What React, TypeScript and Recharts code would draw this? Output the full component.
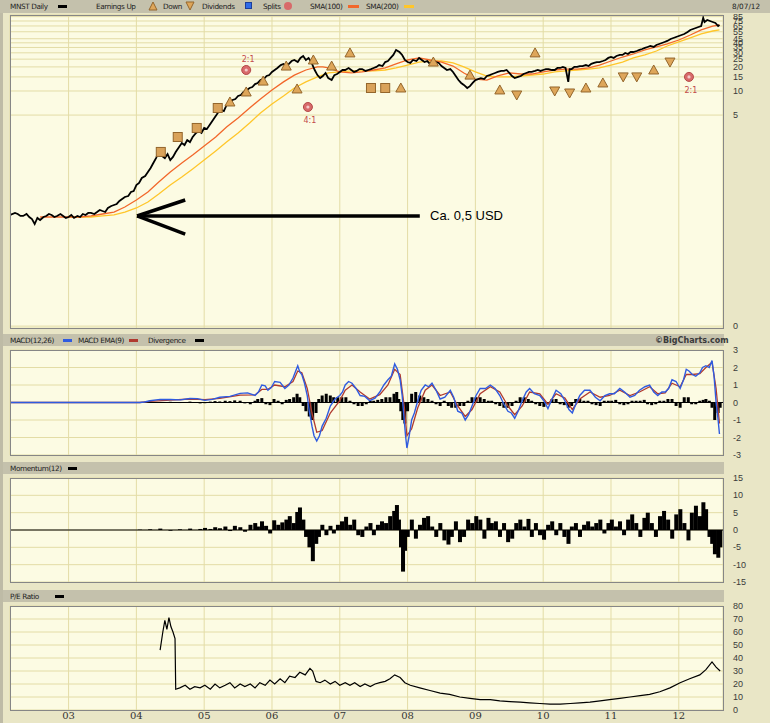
import React from "react";
import {
  ComposedChart,
  Line,
  Bar,
  Scatter,
  XAxis,
  YAxis,
  CartesianGrid,
  ReferenceLine,
} from "recharts";

type P = [number, number];

// ---------- axes ----------
const YEAR_TICKS = [2003, 2004, 2005, 2006, 2007, 2008, 2009, 2010, 2011, 2012];
const YEAR_LABELS = ["03", "04", "05", "06", "07", "08", "09", "10", "11", "12"];
const X_DOMAIN: [number, number] = [2002.136, 2012.652];

const PRICE_TICKS = [0.0115, 5, 10, 15, 20, 25, 30, 35, 40, 45, 55, 65, 75, 85];
const MACD_TICKS = [-3, -2, -1, 0, 1, 2, 3];
const MOM_TICKS = [-15, -10, -5, 0, 5, 10, 15];
const PE_TICKS = [0, 10, 20, 30, 40, 50, 60, 70, 80];

// ---------- price panel (decimal year, USD) ----------
const price: P[] = [
  [2002.14, 0.282], [2002.21, 0.299], [2002.25, 0.29], [2002.29, 0.274], [2002.33, 0.274], [2002.38, 0.29],
  [2002.42, 0.266], [2002.46, 0.251], [2002.5, 0.2175], [2002.54, 0.259], [2002.58, 0.244], [2002.63, 0.266],
  [2002.67, 0.274], [2002.71, 0.29], [2002.75, 0.282], [2002.79, 0.266], [2002.83, 0.274], [2002.88, 0.29],
  [2002.92, 0.274], [2002.96, 0.259], [2003.0, 0.266], [2003.04, 0.282], [2003.08, 0.259], [2003.13, 0.274],
  [2003.17, 0.266], [2003.21, 0.29], [2003.25, 0.282], [2003.29, 0.299], [2003.33, 0.299], [2003.38, 0.29],
  [2003.42, 0.307], [2003.46, 0.326], [2003.5, 0.316], [2003.54, 0.307], [2003.58, 0.345], [2003.63, 0.365],
  [2003.67, 0.376], [2003.71, 0.387], [2003.75, 0.422], [2003.79, 0.447], [2003.83, 0.473], [2003.88, 0.487],
  [2003.92, 0.546], [2003.96, 0.562], [2004.0, 0.668], [2004.04, 0.708], [2004.08, 0.818], [2004.13, 0.866],
  [2004.17, 0.972], [2004.21, 1.09], [2004.25, 1.26], [2004.29, 1.45], [2004.33, 1.73], [2004.38, 1.54],
  [2004.42, 1.45], [2004.46, 1.63], [2004.5, 1.37], [2004.54, 1.5], [2004.58, 1.73], [2004.63, 2.0],
  [2004.67, 2.24], [2004.71, 2.11], [2004.75, 2.44], [2004.79, 2.3], [2004.83, 2.66], [2004.88, 2.99],
  [2004.92, 3.16], [2004.96, 2.99], [2005.0, 3.45], [2005.04, 3.35], [2005.08, 3.76], [2005.13, 4.34],
  [2005.17, 4.87], [2005.21, 5.46], [2005.25, 5.79], [2005.29, 5.62], [2005.33, 6.68], [2005.38, 7.08],
  [2005.42, 7.72], [2005.46, 7.94], [2005.5, 8.66], [2005.54, 8.91], [2005.58, 9.72], [2005.63, 10.3],
  [2005.67, 10.9], [2005.71, 11.2], [2005.75, 12.2], [2005.79, 12.6], [2005.83, 13.7], [2005.88, 14.1],
  [2005.92, 15.4], [2005.96, 15.8], [2006.0, 17.3], [2006.04, 18.3], [2006.08, 19.4], [2006.13, 21.1],
  [2006.17, 21.8], [2006.21, 20.5], [2006.25, 21.8], [2006.29, 23.7], [2006.33, 24.4], [2006.38, 23.0],
  [2006.42, 25.9], [2006.46, 27.4], [2006.5, 24.4], [2006.54, 25.9], [2006.58, 23.0], [2006.63, 18.3],
  [2006.67, 15.8], [2006.71, 14.5], [2006.75, 15.4], [2006.79, 16.8], [2006.83, 14.5], [2006.88, 13.7],
  [2006.92, 15.8], [2006.96, 16.3], [2007.0, 17.3], [2007.04, 18.3], [2007.08, 18.3], [2007.13, 19.4],
  [2007.17, 18.3], [2007.21, 17.3], [2007.25, 17.8], [2007.29, 18.8], [2007.33, 18.8], [2007.38, 17.8],
  [2007.42, 18.3], [2007.46, 18.8], [2007.5, 19.4], [2007.54, 20.0], [2007.58, 21.1], [2007.63, 20.5],
  [2007.67, 23.0], [2007.71, 23.7], [2007.75, 25.9], [2007.79, 28.2], [2007.83, 32.6], [2007.88, 30.7],
  [2007.92, 28.2], [2007.96, 24.4], [2008.0, 23.0], [2008.04, 22.4], [2008.08, 24.4], [2008.13, 23.7],
  [2008.17, 25.9], [2008.21, 24.4], [2008.25, 23.0], [2008.29, 23.7], [2008.33, 21.8], [2008.38, 23.0],
  [2008.42, 23.0], [2008.46, 22.4], [2008.5, 20.5], [2008.54, 19.4], [2008.58, 18.3], [2008.63, 18.8],
  [2008.67, 17.3], [2008.71, 15.4], [2008.75, 13.7], [2008.79, 12.6], [2008.83, 11.9], [2008.88, 10.9],
  [2008.92, 11.5], [2008.96, 12.6], [2009.0, 13.7], [2009.04, 14.1], [2009.08, 14.5], [2009.13, 14.1],
  [2009.17, 15.4], [2009.21, 15.8], [2009.25, 16.3], [2009.29, 16.8], [2009.33, 17.3], [2009.38, 17.8],
  [2009.42, 17.8], [2009.46, 18.3], [2009.5, 16.8], [2009.54, 15.4], [2009.58, 14.5], [2009.63, 15.0],
  [2009.67, 15.4], [2009.71, 16.3], [2009.75, 16.8], [2009.79, 17.3], [2009.83, 17.3], [2009.88, 17.8],
  [2009.92, 18.3], [2009.96, 17.8], [2010.0, 18.3], [2010.04, 18.8], [2010.08, 18.8], [2010.13, 18.3],
  [2010.17, 18.3], [2010.21, 19.4], [2010.25, 19.4], [2010.29, 20.0], [2010.33, 19.4], [2010.37, 13.0],
  [2010.39, 18.8], [2010.42, 18.8], [2010.46, 20.0], [2010.5, 20.0], [2010.54, 20.5], [2010.58, 20.5],
  [2010.63, 21.1], [2010.67, 20.5], [2010.71, 21.8], [2010.75, 22.4], [2010.79, 23.0], [2010.83, 23.0],
  [2010.88, 23.7], [2010.92, 24.4], [2010.96, 25.9], [2011.0, 26.6], [2011.04, 25.9], [2011.08, 27.4],
  [2011.13, 28.2], [2011.17, 28.2], [2011.21, 29.9], [2011.25, 29.0], [2011.29, 30.7], [2011.33, 30.7],
  [2011.38, 31.6], [2011.42, 32.6], [2011.46, 33.5], [2011.5, 34.5], [2011.54, 35.5], [2011.58, 36.5],
  [2011.63, 35.5], [2011.67, 37.6], [2011.71, 38.7], [2011.75, 39.8], [2011.79, 41.0], [2011.83, 42.2],
  [2011.88, 44.7], [2011.92, 46.0], [2011.96, 47.3], [2012.0, 48.7], [2012.04, 50.1], [2012.08, 51.6],
  [2012.13, 54.6], [2012.17, 57.9], [2012.21, 59.6], [2012.25, 61.3], [2012.29, 63.1], [2012.33, 64.9],
  [2012.36, 82.0], [2012.38, 72.9], [2012.42, 77.2], [2012.46, 75.0], [2012.5, 72.9], [2012.54, 70.8],
  [2012.58, 64.9], [2012.6, 66.8],
];

const sma100: P[] = [
  [2002.58, 0.266], [2002.83, 0.266], [2003.0, 0.266], [2003.17, 0.266], [2003.33, 0.274], [2003.5, 0.29],
  [2003.67, 0.307], [2003.83, 0.355], [2004.0, 0.434], [2004.17, 0.546], [2004.33, 0.729], [2004.5, 0.972],
  [2004.67, 1.26], [2004.83, 1.585], [2005.0, 2.05], [2005.17, 2.66], [2005.33, 3.55], [2005.5, 4.6],
  [2005.67, 6.13], [2005.83, 7.94], [2006.0, 10.3], [2006.17, 13.0], [2006.33, 15.8], [2006.5, 18.3],
  [2006.67, 20.0], [2006.75, 20.0], [2006.83, 19.4], [2007.0, 17.3], [2007.17, 16.8], [2007.33, 17.3],
  [2007.5, 18.3], [2007.67, 19.4], [2007.83, 21.8], [2008.0, 24.4], [2008.17, 25.9], [2008.33, 24.4],
  [2008.5, 23.0], [2008.67, 20.5], [2008.83, 16.8], [2009.0, 14.1], [2009.17, 13.7], [2009.33, 15.4],
  [2009.5, 16.8], [2009.67, 16.3], [2009.83, 16.3], [2010.0, 17.3], [2010.17, 18.3], [2010.33, 18.8],
  [2010.5, 18.8], [2010.67, 19.4], [2010.83, 21.1], [2011.0, 23.7], [2011.17, 26.6], [2011.33, 29.0],
  [2011.5, 32.6], [2011.67, 35.5], [2011.83, 38.7], [2012.0, 43.4], [2012.17, 50.1], [2012.33, 57.9],
  [2012.5, 64.9], [2012.6, 66.8],
];

const sma200: P[] = [
  [2003.0, 0.266], [2003.17, 0.266], [2003.33, 0.266], [2003.5, 0.274], [2003.67, 0.282], [2003.83, 0.307],
  [2004.0, 0.345], [2004.17, 0.41], [2004.33, 0.516], [2004.5, 0.668], [2004.67, 0.841], [2004.83, 1.06],
  [2005.0, 1.37], [2005.17, 1.78], [2005.33, 2.3], [2005.5, 2.99], [2005.67, 3.98], [2005.83, 5.31],
  [2006.0, 6.88], [2006.17, 8.66], [2006.33, 10.9], [2006.5, 13.0], [2006.67, 15.0], [2006.83, 16.8],
  [2007.0, 17.3], [2007.17, 17.8], [2007.33, 17.8], [2007.5, 17.8], [2007.67, 18.3], [2007.83, 19.4],
  [2008.0, 21.1], [2008.17, 23.0], [2008.33, 23.7], [2008.5, 23.7], [2008.67, 22.4], [2008.83, 20.0],
  [2009.0, 17.3], [2009.17, 15.4], [2009.33, 15.0], [2009.5, 15.0], [2009.67, 15.4], [2009.83, 15.8],
  [2010.0, 16.3], [2010.17, 17.3], [2010.33, 17.8], [2010.5, 18.3], [2010.67, 18.8], [2010.83, 19.4],
  [2011.0, 21.1], [2011.17, 23.0], [2011.33, 25.9], [2011.5, 28.2], [2011.67, 31.6], [2011.83, 36.5],
  [2012.0, 41.0], [2012.17, 46.0], [2012.33, 51.6], [2012.5, 56.2], [2012.6, 57.9],
];

// event markers (date, plotted price level)
const earningsUp: P[] = [
  [2005.38, 7.29], [2005.62, 9.72], [2005.87, 13.3], [2006.21, 20.5], [2006.37, 10.6], [2006.61, 24.4],
  [2006.88, 20.5], [2007.15, 29.9], [2007.9, 10.9], [2008.38, 23.0], [2008.92, 15.8], [2009.36, 10.3],
  [2009.88, 29.9], [2010.63, 10.9], [2010.88, 12.6], [2011.63, 18.3],
];
const earningsDown: P[] = [
  [2009.61, 8.91], [2010.17, 10.0], [2010.39, 9.44], [2011.18, 15.0], [2011.38, 15.0], [2011.87, 23.0],
];
const earningsFlat: P[] = [
  [2004.36, 1.73], [2004.61, 2.66], [2004.89, 3.45], [2005.2, 6.13], [2007.46, 10.9], [2007.67, 10.9],
];
const splitDates = [2005.62, 2006.53, 2012.15];
const splitLevels = [18.3, 6.31, 15.0];
const splitLabels = ["2:1", "4:1", "2:1"];
const splitLabelAbove = [true, false, false];

// ---------- MACD(12,26) line ----------
const macdLine: P[] = [
  [2002.14, 0], [2004.05, 0], [2004.12, 0.03], [2004.2, 0.1], [2004.35, 0.18], [2004.5, 0.17], [2004.65, 0.15],
  [2004.79, 0.23], [2004.9, 0.22], [2005.01, 0.12], [2005.12, 0.18], [2005.23, 0.3], [2005.38, 0.35], [2005.53, 0.52],
  [2005.64, 0.55], [2005.75, 0.4], [2005.8, 0.6], [2005.85, 1.0], [2005.9, 0.95], [2005.94, 0.7], [2005.99, 0.85],
  [2006.04, 1.2], [2006.12, 1.15], [2006.19, 0.8], [2006.25, 1.0], [2006.31, 1.4], [2006.35, 1.8], [2006.38, 2.1],
  [2006.41, 1.75], [2006.44, 1.6], [2006.48, 1.1], [2006.52, 0.4], [2006.55, -0.5], [2006.59, -1.35], [2006.62, -1.9],
  [2006.66, -2.2], [2006.7, -1.9], [2006.74, -1.35], [2006.8, -0.9], [2006.86, -0.2], [2006.93, 0.2], [2007.0, 0.4],
  [2007.04, 0.6], [2007.08, 1.0], [2007.13, 1.2], [2007.18, 1.1], [2007.24, 0.8], [2007.3, 0.4], [2007.37, 0.35],
  [2007.44, 0.1], [2007.52, 0.25], [2007.59, 0.6], [2007.65, 1.0], [2007.71, 1.3], [2007.76, 1.5], [2007.81, 2.2],
  [2007.85, 1.9], [2007.89, 1.3], [2007.92, 0.4], [2007.95, -1.0], [2007.97, -1.9], [2007.99, -2.6], [2008.02, -2.0],
  [2008.06, -1.0], [2008.1, -0.6], [2008.15, 0.1], [2008.2, 0.7], [2008.26, 1.0], [2008.31, 0.9], [2008.36, 1.1],
  [2008.42, 0.7], [2008.48, 0.2], [2008.55, 0.3], [2008.63, 0.7], [2008.68, 0.3], [2008.74, -0.5], [2008.8, -0.6],
  [2008.85, -1.0], [2008.9, -0.7], [2008.95, -0.2], [2009.01, 0.4], [2009.07, 0.8], [2009.15, 0.8], [2009.22, 1.0],
  [2009.29, 0.8], [2009.36, 0.4], [2009.42, -0.1], [2009.48, -0.5], [2009.53, -0.6], [2009.58, -0.9], [2009.63, -0.5],
  [2009.69, 0.1], [2009.75, 0.6], [2009.8, 0.8], [2009.87, 0.5], [2009.95, 0.4], [2010.01, 0.1], [2010.07, -0.35],
  [2010.13, 0.2], [2010.19, 0.7], [2010.26, 0.5], [2010.32, 0.1], [2010.38, -0.4], [2010.43, -0.6], [2010.48, -0.1],
  [2010.54, 0.4], [2010.61, 0.7], [2010.69, 0.7], [2010.77, 0.3], [2010.84, 0.1], [2010.91, 0.4], [2010.98, 0.5],
  [2011.05, 0.5], [2011.13, 0.8], [2011.2, 0.6], [2011.28, 0.3], [2011.35, 0.4], [2011.42, 0.7], [2011.5, 0.9],
  [2011.57, 1.0], [2011.63, 0.6], [2011.69, 0.4], [2011.75, 0.6], [2011.8, 0.6], [2011.85, 0.8], [2011.9, 1.3],
  [2011.96, 1.2], [2012.02, 0.8], [2012.07, 1.3], [2012.11, 1.9], [2012.15, 1.8], [2012.2, 1.6], [2012.25, 1.5],
  [2012.31, 1.7], [2012.35, 2.0], [2012.4, 2.1], [2012.45, 2.0], [2012.49, 2.4], [2012.52, 1.5], [2012.55, 0],
  [2012.58, -1.0], [2012.6, -1.8],
];

// ---------- MACD EMA(9) ----------
const emaDates = [
  2002.14, 2004.05, 2004.2, 2004.5, 2004.79, 2005.01, 2005.23, 2005.53, 2005.75, 2005.85,
  2005.94, 2006.04, 2006.19, 2006.31, 2006.38, 2006.44, 2006.52, 2006.59, 2006.66, 2006.74,
  2006.86, 2007.0, 2007.08, 2007.18, 2007.3, 2007.44, 2007.59, 2007.71, 2007.81, 2007.89,
  2007.95, 2007.99, 2008.06, 2008.15, 2008.26, 2008.36, 2008.48, 2008.63, 2008.74, 2008.85,
  2008.95, 2009.07, 2009.22, 2009.36, 2009.48, 2009.58, 2009.69, 2009.8, 2009.95, 2010.07,
  2010.19, 2010.32, 2010.43, 2010.54, 2010.69, 2010.84, 2010.98, 2011.13, 2011.28, 2011.42,
  2011.57, 2011.69, 2011.8, 2011.9, 2012.02, 2012.11, 2012.2, 2012.31, 2012.4, 2012.49,
  2012.55, 2012.6,
];
const emaValues = [
  0, 0, 0.07, 0.14, 0.2, 0.16, 0.24, 0.42, 0.43, 0.75,
  0.75, 1.0, 0.9, 1.2, 1.8, 1.7, 0.8, -0.6, -1.7, -1.6,
  -0.6, 0.1, 0.7, 1.0, 0.6, 0.2, 0.45, 1.0, 1.9, 1.6,
  -0.2, -1.9, -1.5, -0.3, 0.7, 1.0, 0.4, 0.6, -0.2, -0.8,
  -0.4, 0.5, 0.9, 0.6, -0.2, -0.7, -0.2, 0.6, 0.5, -0.1,
  0.5, 0.25, -0.4, 0.2, 0.6, 0.3, 0.4, 0.7, 0.4, 0.6,
  0.9, 0.5, 0.55, 1.1, 0.9, 1.6, 1.6, 1.65, 2.0, 2.3,
  0.8, -1.2,
];

// ---------- bar-style series sampled on a common date grid ----------
const barDates = [
  2002.14, 2003.91, 2004.05, 2004.2, 2004.35, 2004.5, 2004.64, 2004.79, 2004.94, 2005.01,
  2005.09, 2005.16, 2005.23, 2005.31, 2005.38, 2005.45, 2005.53, 2005.6, 2005.68, 2005.75,
  2005.79, 2005.85, 2005.91, 2005.97, 2006.03, 2006.09, 2006.15, 2006.21, 2006.26, 2006.32,
  2006.37, 2006.41, 2006.46, 2006.5, 2006.55, 2006.6, 2006.65, 2006.69, 2006.74, 2006.8,
  2006.86, 2006.91, 2006.97, 2007.03, 2007.09, 2007.15, 2007.21, 2007.27, 2007.33, 2007.39,
  2007.45, 2007.5, 2007.56, 2007.62, 2007.68, 2007.74, 2007.8, 2007.84, 2007.87, 2007.9,
  2007.93, 2007.96, 2008.0, 2008.06, 2008.12, 2008.18, 2008.24, 2008.3, 2008.36, 2008.42,
  2008.48, 2008.54, 2008.6, 2008.65, 2008.71, 2008.77, 2008.83, 2008.89, 2008.95, 2009.01,
  2009.07, 2009.13, 2009.19, 2009.24, 2009.3, 2009.36, 2009.42, 2009.48, 2009.54, 2009.6,
  2009.66, 2009.72, 2009.78, 2009.83, 2009.89, 2009.95, 2010.01, 2010.07, 2010.13, 2010.19,
  2010.25, 2010.31, 2010.37, 2010.42, 2010.48, 2010.54, 2010.6, 2010.66, 2010.72, 2010.78,
  2010.84, 2010.9, 2010.96, 2011.01, 2011.07, 2011.13, 2011.19, 2011.25, 2011.31, 2011.37,
  2011.43, 2011.49, 2011.54, 2011.6, 2011.66, 2011.72, 2011.78, 2011.84, 2011.9, 2011.96,
  2012.02, 2012.08, 2012.14, 2012.19, 2012.25, 2012.31, 2012.36, 2012.4, 2012.45, 2012.49,
  2012.53, 2012.58, 2012.61,
];
const divergenceValues = [
  0, 0, 0.02, 0.05, 0.03, 0.04, -0.03, 0.05, -0.05, -0.04,
  0.05, 0.08, 0.06, 0.1, 0.08, 0.12, 0.1, -0.05, -0.1, 0.1,
  0.2, 0.25, -0.1, -0.15, 0.2, 0.1, -0.1, 0.15, 0.2, 0.3,
  0.5, 0.3, -0.2, -0.5, -0.8, -1.0, -0.6, 0.2, 0.4, 0.5,
  0.4, 0.3, 0.3, 0.3, 0.3, 0.1, -0.1, -0.2, -0.2, -0.1,
  0.1, 0.1, 0.15, 0.2, 0.3, 0.3, 0.5, 0.6, 0.2, -0.5,
  -1.0, -1.2, -0.5, 0.5, 0.6, 0.4, 0.3, 0.2, 0.1, -0.1,
  -0.2, 0.1, -0.2, -0.3, -0.3, -0.2, -0.2, 0.1, 0.3, 0.3,
  0.3, 0.2, 0.1, 0.1, -0.1, -0.2, -0.3, -0.3, -0.2, 0.1,
  0.3, 0.3, 0.2, 0.1, -0.1, -0.2, -0.25, -0.1, 0.2, 0.2,
  -0.1, -0.15, -0.3, -0.2, 0.2, 0.2, 0.1, 0.1, -0.1, -0.15,
  -0.2, 0.1, 0.1, 0.1, 0.15, -0.1, -0.15, -0.1, 0.1, 0.1,
  0.1, 0.15, -0.1, -0.15, -0.1, 0.1, 0.1, 0.2, 0.2, -0.2,
  -0.3, 0.3, 0.3, -0.1, -0.1, 0.1, 0.15, 0.2, 0.1, -0.3,
  -1.0, -0.6, -0.3,
];
const momentumValues = [
  0, 0, 0.1, 0.2, 0.4, -0.2, 0.2, 0.4, 0.3, 0.6,
  0.3, 0.8, 0.5, 1.0, -0.3, 1.2, 0.8, -0.5, 1.5, 2.0,
  1.0, 2.5, 1.2, -1.0, 2.8, 1.5, 2.2, 3.0, 4.0, 2.0,
  5.2, 6.5, 3.0, -2.0, -5.0, -9.0, -4.0, -2.0, 1.5, -1.5,
  1.2, -1.0, 1.5, 2.5, 3.8, 1.5, 3.0, -1.5, -2.0, 1.0,
  2.0, -1.5, 1.5, 2.5, 2.0, 4.0, 5.5, 7.2, 3.0, -5.0,
  -12.0, -6.0, -2.0, 3.0, -2.5, 1.5, 3.5, 4.0, 1.0, -2.0,
  2.0, -3.0, -4.2, -2.0, 2.5, -3.5, -2.0, 3.0, 2.0, 4.0,
  3.0, -2.5, 3.5, 2.0, 2.5, -2.0, 2.0, -3.5, -2.5, 2.0,
  3.0, 1.0, 3.2, -2.0, 2.0, -1.5, -2.8, 1.5, 2.5, -1.5,
  2.0, -2.0, -4.0, 1.0, 2.0, -2.0, 1.5, 2.5, 1.0, 2.0,
  3.0, -1.0, 2.0, 3.0, 1.0, 2.5, -1.5, 3.0, 4.5, 2.0,
  -2.0, 3.5, 5.0, 2.0, -2.0, 4.0, 5.5, 3.0, -2.5, 4.5,
  6.0, 2.0, -3.0, 5.0, 7.0, 4.0, 8.0, 6.0, -2.0, -4.0,
  -7.0, -8.0, -5.0,
];

// ---------- P/E Ratio ----------
const peRatio: P[] = [
  [2004.35, 46], [2004.39, 60], [2004.42, 69], [2004.45, 62], [2004.48, 71], [2004.51, 64], [2004.54, 60],
  [2004.57, 55], [2004.58, 16], [2004.64, 17], [2004.72, 19], [2004.79, 16], [2004.86, 18], [2004.94, 17],
  [2005.01, 19], [2005.09, 16], [2005.16, 20], [2005.23, 17], [2005.31, 19], [2005.38, 21], [2005.45, 17],
  [2005.53, 20], [2005.6, 18], [2005.68, 20], [2005.75, 17], [2005.82, 21], [2005.9, 19], [2005.97, 23],
  [2006.04, 20], [2006.12, 24], [2006.19, 21], [2006.26, 26], [2006.34, 25], [2006.41, 29], [2006.49, 27],
  [2006.56, 32], [2006.6, 30], [2006.65, 22], [2006.71, 21], [2006.78, 23], [2006.86, 20], [2006.93, 22],
  [2007.0, 19], [2007.08, 21], [2007.15, 19], [2007.22, 21], [2007.3, 18], [2007.37, 20], [2007.45, 18],
  [2007.52, 20], [2007.59, 21], [2007.67, 22], [2007.74, 24], [2007.81, 27], [2007.89, 25], [2007.96, 21],
  [2008.04, 19], [2008.18, 17], [2008.33, 15], [2008.48, 13], [2008.62, 12], [2008.77, 10], [2008.92, 9],
  [2009.07, 8], [2009.22, 8], [2009.36, 7], [2009.51, 6.5], [2009.66, 6], [2009.8, 5.5], [2009.95, 5],
  [2010.1, 4.5], [2010.25, 4.5], [2010.4, 5], [2010.54, 5.5], [2010.69, 6], [2010.84, 7], [2010.98, 8],
  [2011.13, 9], [2011.28, 10], [2011.43, 11], [2011.57, 12], [2011.72, 14], [2011.87, 17], [2012.02, 21],
  [2012.16, 24], [2012.31, 27], [2012.4, 31], [2012.49, 37], [2012.55, 33], [2012.61, 30],
];

// ---------- helpers ----------
const rows = (a: P[]) => a.map(([t, v]) => ({ t, v }));
const zipRows = (ts: number[], vs: number[]) => ts.map((t, i) => ({ t, v: vs[i] }));

const BG = "#E9E6C6";
const BAR = "#C4C1AC";
const PLOT_BG = "#FCFBE3";
const GRID = "#E3DCA6";
const AXIS_FONT = "'Liberation Sans', Arial, sans-serif";
const LEGEND_FONT = "'DejaVu Sans', Verdana, sans-serif";

function RightTick(props: any) {
  const { x, y, payload, fmt } = props;
  const label = fmt ? fmt(payload.value) : String(payload.value);
  return (
    <text x={x} y={y} dy={3} textAnchor="start" fontSize={9} fontFamily={AXIS_FONT} fill="#3a3a3a">
      {label}
    </text>
  );
}

function YearTick(props: any) {
  const { x, y, payload } = props;
  const i = YEAR_TICKS.indexOf(payload.value);
  return (
    <text x={x} y={y} dy={9} textAnchor="middle" fontSize={10} fontFamily="'DejaVu Serif', serif" fill="#333">
      {YEAR_LABELS[i]}
    </text>
  );
}

// bar shape with a fixed pixel width, centred on the library-computed bar position
const fixedBar = (w: number) => (p: any) => {
  const { x, y, width, height } = p;
  if (height === undefined || width === undefined) return <g />;
  const cx = x + width / 2;
  const top = height < 0 ? y + height : y;
  return <rect x={cx - w / 2} y={top} width={w} height={Math.abs(height)} fill="#000" />;
};

const UpTri = (p: any) => (
  <polygon
    points={`${p.cx},${p.cy - 5} ${p.cx - 5},${p.cy + 4} ${p.cx + 5},${p.cy + 4}`}
    fill="#DEA65A"
    stroke="#94662C"
    strokeWidth={1}
  />
);
const DownTri = (p: any) => (
  <polygon
    points={`${p.cx - 5},${p.cy - 4} ${p.cx + 5},${p.cy - 4} ${p.cx},${p.cy + 5}`}
    fill="#DEA65A"
    stroke="#94662C"
    strokeWidth={1}
  />
);
const Square = (p: any) => (
  <rect x={p.cx - 4.5} y={p.cy - 4.5} width={9} height={9} fill="#D9A25A" stroke="#94662C" strokeWidth={1} />
);
const SplitDot = (p: any) => {
  const i = p.index ?? 0;
  const above = splitLabelAbove[i];
  return (
    <g>
      <circle cx={p.cx} cy={p.cy} r={4.5} fill="#D86A6A" stroke="#B44848" />
      <circle cx={p.cx} cy={p.cy} r={1.6} fill="#F4C8C8" />
      <text
        x={p.cx + 2}
        y={above ? p.cy - 8 : p.cy + 16}
        textAnchor="middle"
        fontSize={8}
        fontFamily={LEGEND_FONT}
        fill="#C24A4A"
      >
        {splitLabels[i]}
      </text>
    </g>
  );
};

const abs = (left: number, top: number, extra: React.CSSProperties = {}): React.CSSProperties => ({
  position: "absolute",
  left,
  top,
  ...extra,
});

function Txt({ x, y, children, size = 7.3, color = "#222", bold = false, spacing = -0.4 }: any) {
  return (
    <div
      style={abs(x, y, {
        fontFamily: LEGEND_FONT,
        fontSize: size,
        color,
        fontWeight: bold ? 700 : 400,
        lineHeight: "11px",
        letterSpacing: spacing,
        whiteSpace: "nowrap",
      })}
    >
      {children}
    </div>
  );
}

function Swatch({ x, y, w = 9, h = 3, color }: any) {
  return <div style={abs(x, y, { width: w, height: h, background: color })} />;
}

function PlotBorder({ x1, y1, x2, y2 }: any) {
  return (
    <div
      style={abs(x1, y1, {
        width: x2 - x1,
        height: y2 - y1,
        border: "1px solid #868686",
        boxSizing: "border-box",
        pointerEvents: "none",
      })}
    />
  );
}

const xAxisHidden = (
  <XAxis type="number" dataKey="t" domain={X_DOMAIN} ticks={YEAR_TICKS} hide allowDataOverflow />
);

export default function App() {
  const fmtPrice = (v: number) => (v < 1 ? "0" : String(v));
  const arrowY = 0.274;
  const divRows = zipRows(barDates, divergenceValues);
  const momRows = zipRows(barDates, momentumValues);

  return (
    <div style={abs(0, 0, { width: 770, height: 723, background: BG, overflow: "hidden" })}>
      <div style={abs(0, 0, { width: 3, height: 723, background: "#BEBBA6" })} />

      {/* Main price panel */}
      <div style={abs(0, 0)}>
        <ComposedChart width={770} height={335} margin={{ top: 15, right: 0, bottom: 7, left: 10 }}>
          <CartesianGrid fill={PLOT_BG} stroke={GRID} strokeWidth={1} />
          {xAxisHidden}
          <YAxis
            orientation="right"
            dataKey="v"
            type="number"
            scale="log"
            domain={[0.0109, 89.1]}
            ticks={PRICE_TICKS}
            interval={0}
            width={47}
            tickSize={0}
            tickMargin={10}
            tickLine={false}
            axisLine={false}
            allowDataOverflow
            tick={(p: any) => <RightTick {...p} fmt={fmtPrice} />}
          />
          <Line data={rows(sma200)} dataKey="v" stroke="#FFC62A" strokeWidth={1.3} dot={false} activeDot={false} isAnimationActive={false} />
          <Line data={rows(sma100)} dataKey="v" stroke="#F2672A" strokeWidth={1.3} dot={false} activeDot={false} isAnimationActive={false} />
          <Line data={rows(price)} dataKey="v" stroke="#000" strokeWidth={1.8} dot={false} activeDot={false} isAnimationActive={false} />
          <Scatter data={rows(earningsFlat)} dataKey="v" shape={Square} isAnimationActive={false} />
          <Scatter data={rows(earningsUp)} dataKey="v" shape={UpTri} isAnimationActive={false} />
          <Scatter data={rows(earningsDown)} dataKey="v" shape={DownTri} isAnimationActive={false} />
          <Scatter data={zipRows(splitDates, splitLevels)} dataKey="v" shape={SplitDot} isAnimationActive={false} />
          <ReferenceLine segment={[{ x: 2004.01, y: arrowY }, { x: 2008.18, y: arrowY }]} stroke="#000" strokeWidth={3.5} />
          <ReferenceLine segment={[{ x: 2004.01, y: arrowY }, { x: 2004.72, y: 0.434 }]} stroke="#000" strokeWidth={3.5} />
          <ReferenceLine segment={[{ x: 2004.01, y: arrowY }, { x: 2004.72, y: 0.163 }]} stroke="#000" strokeWidth={3.5} />
        </ComposedChart>
      </div>

      {/* MACD panel */}
      <div style={abs(0, 340)}>
        <ComposedChart data={divRows} width={770} height={125} margin={{ top: 10, right: 0, bottom: 10, left: 10 }}>
          <CartesianGrid fill={PLOT_BG} stroke={GRID} />
          {xAxisHidden}
          <YAxis
            orientation="right"
            dataKey="v"
            type="number"
            domain={[-3, 3]}
            ticks={MACD_TICKS}
            interval={0}
            width={47}
            tickSize={0}
            tickMargin={10}
            tickLine={false}
            axisLine={false}
            allowDataOverflow
            tick={(p: any) => <RightTick {...p} />}
          />
          <ReferenceLine y={0} stroke="#000" strokeWidth={1} />
          <Bar dataKey="v" fill="#000" shape={fixedBar(3)} isAnimationActive={false} />
          <Line data={zipRows(emaDates, emaValues)} dataKey="v" stroke="#B03A2E" strokeWidth={1.3} dot={false} activeDot={false} isAnimationActive={false} />
          <Line data={rows(macdLine)} dataKey="v" stroke="#2F5BE0" strokeWidth={1.4} dot={false} activeDot={false} isAnimationActive={false} />
        </ComposedChart>
      </div>

      {/* Momentum panel */}
      <div style={abs(0, 470)}>
        <ComposedChart data={momRows} width={770} height={120} margin={{ top: 8, right: 0, bottom: 8, left: 10 }}>
          <CartesianGrid fill={PLOT_BG} stroke={GRID} />
          {xAxisHidden}
          <YAxis
            orientation="right"
            dataKey="v"
            type="number"
            domain={[-15, 15]}
            ticks={MOM_TICKS}
            interval={0}
            width={47}
            tickSize={0}
            tickMargin={10}
            tickLine={false}
            axisLine={false}
            allowDataOverflow
            tick={(p: any) => <RightTick {...p} />}
          />
          <ReferenceLine y={0} stroke="#000" strokeWidth={1} />
          <Bar dataKey="v" fill="#000" shape={fixedBar(4)} isAnimationActive={false} />
        </ComposedChart>
      </div>

      {/* P/E panel */}
      <div style={abs(0, 596)}>
        <ComposedChart width={770} height={127} margin={{ top: 10, right: 0, bottom: 0, left: 10 }}>
          <CartesianGrid fill={PLOT_BG} stroke={GRID} />
          <XAxis
            type="number"
            dataKey="t"
            domain={X_DOMAIN}
            ticks={YEAR_TICKS}
            interval={0}
            height={13}
            tickSize={0}
            tickMargin={0}
            tickLine={false}
            axisLine={false}
            allowDataOverflow
            tick={(p: any) => <YearTick {...p} />}
          />
          <YAxis
            orientation="right"
            dataKey="v"
            type="number"
            domain={[0, 80]}
            ticks={PE_TICKS}
            interval={0}
            width={47}
            tickSize={0}
            tickMargin={10}
            tickLine={false}
            axisLine={false}
            allowDataOverflow
            tick={(p: any) => <RightTick {...p} />}
          />
          <Line data={rows(peRatio)} dataKey="v" stroke="#000" strokeWidth={1.2} dot={false} activeDot={false} isAnimationActive={false} />
        </ComposedChart>
      </div>

      {/* plot borders */}
      <PlotBorder x1={10} y1={15} x2={724} y2={329} />
      <PlotBorder x1={10} y1={350} x2={724} y2={456} />
      <PlotBorder x1={10} y1={478} x2={724} y2={583} />
      <PlotBorder x1={10} y1={606} x2={724} y2={711} />

      {/* header bars */}
      <div style={abs(0, 0, { width: 770, height: 13, background: BAR })} />
      <div style={abs(3, 334, { width: 721, height: 12, background: BAR })} />
      <div style={abs(3, 462, { width: 721, height: 12, background: BAR })} />
      <div style={abs(3, 590, { width: 721, height: 12, background: BAR })} />

      {/* top legend */}
      <Txt x={10} y={1}>MNST Daily</Txt>
      <Swatch x={58} y={5} color="#000" />
      <Txt x={96} y={1}>Earnings Up</Txt>
      <svg style={abs(148, 1)} width={10} height={10}>
        <polygon points="5,1 1,9 9,9" fill="#DEA65A" stroke="#94662C" />
      </svg>
      <Txt x={163} y={1}>Down</Txt>
      <svg style={abs(185, 1)} width={10} height={10}>
        <polygon points="1,1 9,1 5,9" fill="#DEA65A" stroke="#94662C" />
      </svg>
      <Txt x={202} y={1}>Dividends</Txt>
      <div style={abs(245, 2, { width: 7, height: 7, background: "#2F6BE8", border: "1px solid #1C3E9A", boxSizing: "border-box" })} />
      <Txt x={263} y={1}>Splits</Txt>
      <div style={abs(284, 2, { width: 8, height: 8, borderRadius: 4, background: "#D86A6A" })} />
      <Txt x={310} y={1}>SMA(100)</Txt>
      <Swatch x={348} y={5} w={11} color="#F2672A" />
      <Txt x={366} y={1}>SMA(200)</Txt>
      <Swatch x={404} y={5} w={10} color="#FFC62A" />
      <Txt x={732} y={1} spacing={0}>8/07/12</Txt>

      {/* MACD legend */}
      <Txt x={10} y={335}>MACD(12,26)</Txt>
      <Swatch x={63} y={339} color="#2F5BE0" />
      <Txt x={78} y={335}>MACD EMA(9)</Txt>
      <Swatch x={129} y={339} color="#B03A2E" />
      <Txt x={148} y={335}>Divergence</Txt>
      <Swatch x={195} y={339} color="#000" />
      <Txt x={655} y={335} size={8} bold color="#3a3a3a" spacing={0}>©BigCharts.com</Txt>

      {/* Momentum legend */}
      <Txt x={10} y={463}>Momentum(12)</Txt>
      <Swatch x={68} y={467} color="#000" />

      {/* P/E legend */}
      <Txt x={10} y={591}>P/E Ratio</Txt>
      <Swatch x={55} y={595} color="#000" />

      {/* annotation */}
      <div style={abs(430, 208, { fontFamily: AXIS_FONT, fontSize: 13, color: "#000", whiteSpace: "nowrap" })}>
        Ca. 0,5 USD
      </div>
    </div>
  );
}
